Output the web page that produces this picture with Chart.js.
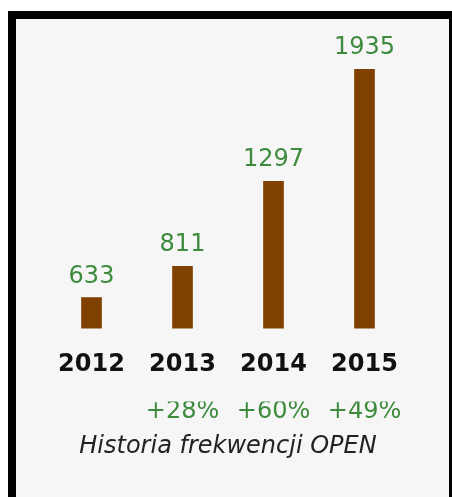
<!DOCTYPE html>
<html>
<head>
<meta charset="utf-8">
<script src="https://cdn.jsdelivr.net/npm/chart.js@4"></script>
<style>
  html, body { margin: 0; padding: 0; background: #ffffff; }
  #wrap { position: relative; width: 452px; height: 497px; }
  canvas { display: block; }
</style>
</head>
<body>
<div id="wrap"><canvas id="c" width="452" height="497"></canvas></div>
<script>
const years = ["2012", "2013", "2014", "2015"];
const attendance = [633, 811, 1297, 1935];
const growthLabels = ["", "+28%", "+60%", "+49%"];
const caption = "Historia frekwencji OPEN";

const GREEN = "#3d8b3d";
const BROWN = "#7f4000";
const FONT = "DejaVu Sans";

const framePlugin = {
  id: "frame",
  beforeDraw(chart) {
    const ctx = chart.ctx;
    ctx.save();
    ctx.fillStyle = "#ffffff";
    ctx.fillRect(0, 0, chart.width, chart.height);
    ctx.fillStyle = "#000000";
    ctx.fillRect(8, 11, chart.width - 8, chart.height - 11);
    ctx.fillStyle = "#f6f6f6";
    ctx.fillRect(16, 19, 433, chart.height - 19);
    ctx.restore();
  }
};

const valueLabelPlugin = {
  id: "valueLabels",
  afterDatasetsDraw(chart) {
    const ctx = chart.ctx;
    const meta = chart.getDatasetMeta(0);
    ctx.save();
    ctx.font = "24px " + FONT;
    ctx.fillStyle = GREEN;
    ctx.textAlign = "center";
    ctx.textBaseline = "alphabetic";
    meta.data.forEach((bar, i) => {
      ctx.fillText(String(chart.data.datasets[0].data[i]), bar.x, bar.y - 15);
    });
    ctx.restore();
  }
};

new Chart(document.getElementById("c"), {
  type: "bar",
  data: {
    labels: years,
    datasets: [{
      data: attendance,
      backgroundColor: BROWN,
      borderWidth: 0,
      barThickness: 20,
      xAxisID: "x"
    }]
  },
  options: {
    responsive: false,
    animation: false,
    devicePixelRatio: 1,
    layout: { padding: { left: 46, right: 42, top: 58, bottom: 36 } },
    plugins: {
      legend: { display: false },
      tooltip: { enabled: false },
      title: {
        display: true,
        position: "bottom",
        text: caption,
        color: "#222222",
        font: { family: FONT, size: 24, style: "italic", weight: "normal" },
        padding: { top: 10, bottom: 0 }
      }
    },
    scales: {
      x: {
        position: "bottom",
        grid: { display: false, drawTicks: false },
        border: { display: false },
        ticks: {
          color: "#111111",
          padding: 22,
          font: { family: FONT, size: 24, weight: "bold" }
        }
      },
      x2: {
        type: "category",
        position: "bottom",
        labels: growthLabels,
        grid: { display: false, drawTicks: false },
        border: { display: false },
        ticks: {
          color: GREEN,
          padding: -4,
          font: { family: FONT, size: 24 }
        }
      },
      y: {
        display: false,
        min: 456,
        max: 2000
      }
    }
  },
  plugins: [framePlugin, valueLabelPlugin]
});
</script>
</body>
</html>
